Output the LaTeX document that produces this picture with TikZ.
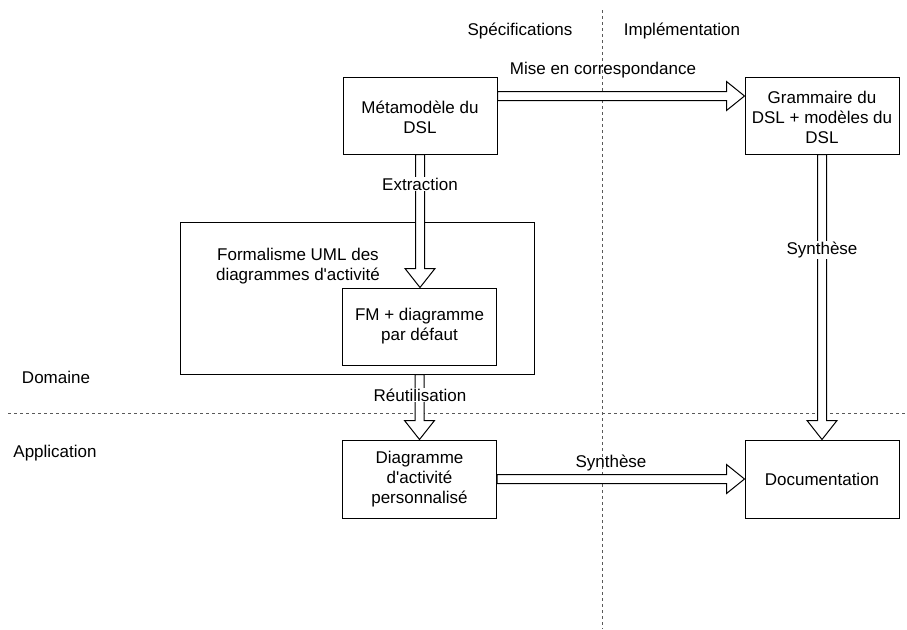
\documentclass[tikz,border=0pt]{standalone}
\usepackage{fontspec}
\setmainfont{Liberation Sans}
\usetikzlibrary{calc}
\newcommand{\blkH}[2]{%
 \draw[blk] let \p1=(#1), \p2=(#2) in
  (\x1,\y1+4.5pt) -- (\x2-18pt,\y1+4.5pt) -- (\x2-18pt,\y1+14.5pt) -- (\x2,\y1)
  -- (\x2-18pt,\y1-14.5pt) -- (\x2-18pt,\y1-4.5pt) -- (\x1,\y1-4.5pt) -- cycle;}
\newcommand{\blkV}[2]{%
 \draw[blk] let \p1=(#1), \p2=(#2) in
  (\x1-4.5pt,\y1) -- (\x1-4.5pt,\y2+19pt) -- (\x1-15pt,\y2+19pt) -- (\x1,\y2)
  -- (\x1+15pt,\y2+19pt) -- (\x1+4.5pt,\y2+19pt) -- (\x1+4.5pt,\y1) -- cycle;}
\newcommand{\hstrut}{\rule{0pt}{17pt}}
\begin{document}
\begin{tikzpicture}[x=1pt,y=-1pt,
  box/.style={draw=black,line width=1pt,fill=white,minimum width=154pt,minimum height=77pt,
    align=center,inner sep=2pt,font=\fontsize{17}{20}\selectfont},
  txt/.style={align=center,inner sep=1pt,font=\fontsize{17}{19.5}\selectfont},
  lbl/.style={txt,fill=white},
  blk/.style={draw=black,line width=1pt,fill=white,line join=miter},
  sep/.style={draw=black!65,line width=0.9pt,dash pattern=on 3pt off 3pt}]
\useasboundingbox (0,0) rectangle (907,629);
% separators
\coordinate (vtop) at (602,10);
\coordinate (vbot) at (602,629);
\coordinate (hl) at (8,413);
\coordinate (hr) at (907,413);
\draw[sep] (vtop) -- (vbot);
\draw[sep] (hl) -- (hr);
% boxes
\node[box] (meta) at (420,115.5) {\hstrut Métamodèle du\\DSL};
\node[box] (gram) at (822,115.5) {\hstrut Grammaire du\\DSL + modèles du\\DSL};
\node[box,minimum width=354pt,minimum height=152pt] (formal) at (357,298) {};
\node[txt] (formallbl) at (298,266) {Formalisme UML des\\diagrammes d\textquotesingle activité};
\node[box] (fm) at (419.5,326.5) {FM + diagramme\\par défaut};
\node[box,minimum height=78pt] (perso) at (419.5,479) {Diagramme\\d\textquotesingle activité\\personnalisé};
\node[box,minimum height=78pt] (doc) at (822,479) {Documentation};
% arrows
\coordinate (a1) at ($(meta.north east)+(0,19.5)$);
\blkH{a1}{gram.west |- a1}
\blkV{meta.south}{fm.north}
\blkV{perso.north |- formal.south}{perso.north}
\blkH{perso.east}{doc.west}
\blkV{gram.south}{doc.north}
% labels
\node[txt] (spec) at (520,31) {Spécifications};
\node[txt] (impl) at (682,31) {Implémentation};
\node[txt] (mise) at (603,70) {Mise en correspondance};
\node[lbl] (extr) at (420,184) {Extraction};
\node[lbl] (reut) at (420,395) {Réutilisation};
\node[lbl] (syn1) at (822,250) {Synthèse};
\node[txt] (syn2) at (611,463) {Synthèse};
\node[txt] (dom) at (56,377) {Domaine};
\node[txt] (app) at (55,453) {Application};
\end{tikzpicture}
\end{document}
